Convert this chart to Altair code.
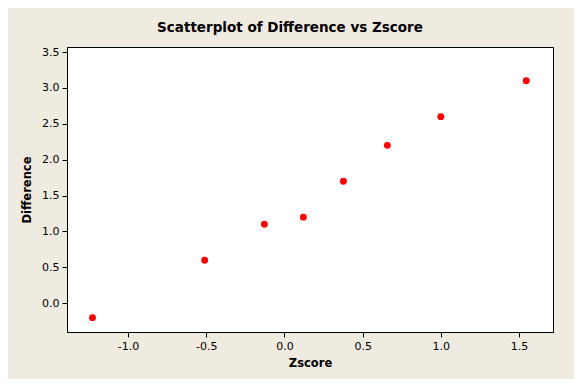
import altair as alt
import pandas as pd

zscore = [-1.227, -0.51, -0.128, 0.121, 0.377, 0.658, 1.0, 1.546]
difference = [-0.2, 0.6, 1.1, 1.2, 1.7, 2.2, 2.6, 3.1]
x_ticks = [-1.0, -0.5, 0.0, 0.5, 1.0, 1.5]
y_ticks = [0.0, 0.5, 1.0, 1.5, 2.0, 2.5, 3.0, 3.5]

df = pd.DataFrame({"Zscore": zscore, "Difference": difference})

FONT = "DejaVu Sans"
BG = "#EFEBE1"
LBL = "replace(format(datum.value, '.1f'), '\u2212', '-')"

points = alt.Chart(df).mark_circle(size=48, color="#FF0000", opacity=1).encode(
    x=alt.X("Zscore:Q",
            scale=alt.Scale(domain=[-1.39, 1.717], nice=False, zero=False),
            axis=alt.Axis(values=x_ticks, labelExpr=LBL, title="Zscore",
                          grid=False, domainColor="black", tickColor="black",
                          tickSize=5, labelPadding=3, titlePadding=6)),
    y=alt.Y("Difference:Q",
            scale=alt.Scale(domain=[-0.40, 3.57], nice=False, zero=False),
            axis=alt.Axis(values=y_ticks, labelExpr=LBL, title="Difference",
                          grid=False, domainColor="black", tickColor="black",
                          tickSize=5, labelPadding=3, titlePadding=9)),
)

chart = points.properties(
    width=486,
    height=285,
    autosize=alt.AutoSizeParams(type="none"),
    padding={"left": 59, "top": 39, "right": 21, "bottom": 47},
    background=BG,
    title=alt.TitleParams("Scatterplot of Difference vs Zscore", font=FONT,
                          fontSize=13.5, fontWeight="bold", color="black",
                          anchor="middle", dx=-20, offset=12),
).configure_view(
    fill="white", stroke="black", strokeWidth=1
).configure_axis(
    labelFont=FONT, labelFontSize=11, labelColor="black",
    titleFont=FONT, titleFontSize=11.5, titleFontWeight="bold", titleColor="black",
)

chart.save("out.html", embed_options={"renderer": "svg", "actions": False})
